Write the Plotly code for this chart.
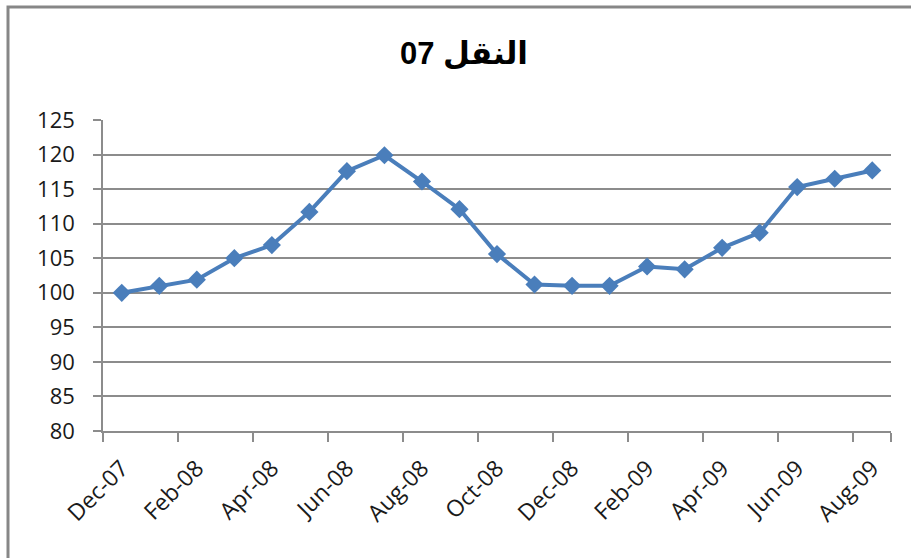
import plotly.graph_objects as go

months = ["Dec-07", "Jan-08", "Feb-08", "Mar-08", "Apr-08", "May-08", "Jun-08",
          "Jul-08", "Aug-08", "Sep-08", "Oct-08", "Nov-08", "Dec-08", "Jan-09",
          "Feb-09", "Mar-09", "Apr-09", "May-09", "Jun-09", "Jul-09", "Aug-09"]
values = [100.0, 101.0, 101.9, 105.0, 106.9, 111.7, 117.6, 119.9, 116.1, 112.1,
          105.6, 101.2, 101.0, 101.0, 103.8, 103.4, 106.5, 108.7, 115.3, 116.5, 117.7]
y_ticks = [80, 85, 90, 95, 100, 105, 110, 115, 120, 125]
title_text = "07 النقل"

grid = "#8c8c8c"
blue = "#4a7ebb"

fig = go.Figure()
fig.add_trace(go.Scatter(
    x=months, y=values, mode="lines+markers",
    line=dict(color=blue, width=4),
    marker=dict(symbol="diamond", size=14, color=blue),
    showlegend=False, cliponaxis=False,
))

fig.update_layout(
    width=911, height=558,
    margin=dict(l=103, r=20, t=120, b=127),
    paper_bgcolor="white", plot_bgcolor="white",
    title=dict(text=title_text, x=464/911, xref="container", xanchor="center",
               y=1-53/558, yref="container", yanchor="middle",
               font=dict(family="Liberation Sans, DejaVu Sans", size=31, color="black", weight="bold")),
    font=dict(family="Open Sans", color="#1a1a1a"),
)

fig.update_xaxes(
    type="category", categoryorder="array", categoryarray=months,
    range=[-0.5, len(months) - 0.5],
    tickmode="array", tickvals=months[::2], ticktext=months[::2],
    tickson="boundaries",
    ticks="outside", ticklen=9, tickcolor=grid, tickwidth=1.5,
    ticklabelstandoff=13,
    tickangle=-45, tickfont=dict(size=23, family="Open Sans", color="#1a1a1a"),
    showline=True, linecolor=grid, linewidth=1.5,
    showgrid=False, zeroline=False,
)
fig.update_yaxes(
    range=[80, 125], tickmode="array", tickvals=y_ticks,
    ticks="outside", ticklen=8, tickcolor=grid, tickwidth=1.5,
    ticklabelstandoff=14,
    tickfont=dict(size=22, family="Open Sans", color="#1a1a1a"),
    showline=True, linecolor=grid, linewidth=1.5,
    showgrid=True, gridcolor=grid, gridwidth=1.5, zeroline=False,
)

# outer chart border (left and top visible; right/bottom cropped)
fig.add_shape(type="rect", xref="paper", yref="paper",
              x0=(8 - 103) / 788, x1=1.2, y0=-0.6, y1=1 + (120 - 7) / 311,
              line=dict(color="#878787", width=3), layer="above")

fig.write_html("out.html", config={"displayModeBar": False},
               post_script="document.body.style.margin='0';document.body.style.overflow='hidden';")
